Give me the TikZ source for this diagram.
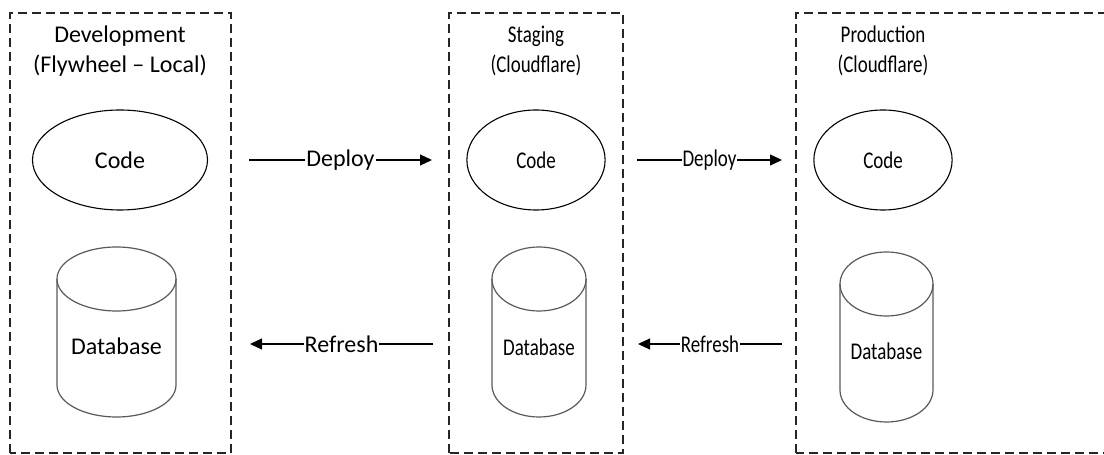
\documentclass[tikz,border=0pt]{standalone}
\usepackage{fontspec}
\setmainfont{Carlito}
\usetikzlibrary{shapes.geometric,arrows.meta}
\tikzset{
  envbox/.style={draw=black!85, line width=1.2pt, dash pattern=on 9pt off 5pt},
  title/.style={align=center, font=\fontsize{24}{30}\selectfont, inner sep=0pt},
  codeell/.style={ellipse, draw, line width=1.1pt, minimum height=100pt, minimum width=175pt, inner sep=0pt, font=\fontsize{24}{29}\selectfont},
  dbtext/.style={font=\fontsize{24}{29}\selectfont, inner sep=0pt},
  cyl/.style={draw=black!65, line width=1.2pt},
  arr/.style={line width=1.2pt, -{Triangle[length=12pt,width=11pt]}},
  lbl/.style={fill=white, inner sep=1pt, font=\fontsize{24}{29}\selectfont},
  squish/.style={xscale=0.79, transform shape}
}
\begin{document}
\begin{tikzpicture}[x=1pt,y=1pt]
\useasboundingbox (0,0) rectangle (1104,455);
\clip (0,0) rectangle (1104,455);
% environment boxes
\draw[envbox] (10,2) rectangle (231,442);
\draw[envbox] (449,2) rectangle (623,442);
\draw[envbox] (796,2) rectangle (1130,442);
% titles
\node[title] (tdev) at (120,404) {Development\\(Flywheel – Local)};
\node[title, squish] (tstg) at (536,404) {Staging\\(Cloudflare)};
\node[title, squish] (tprd) at (883,404) {Production\\(Cloudflare)};
% code ellipses
\node[codeell] (cdev) at (120,295) {Code};
\node[codeell, squish] (cstg) at (536,295) {Code};
\node[codeell, squish] (cprd) at (883,295) {Code};
% cylinders
\draw[cyl] (57,176) -- (57,70) arc (180:360:59.5 and 32) -- (176,176) arc (0:180:59.5 and 32) -- cycle;
\draw[cyl] (57,176) arc (180:360:59.5 and 32);
\draw[cyl] (492,176) -- (492,70) arc (180:360:47 and 32) -- (586,176) arc (0:180:47 and 32) -- cycle;
\draw[cyl] (492,176) arc (180:360:47 and 32);
\draw[cyl] (840,171) -- (840,65) arc (180:360:46.5 and 32) -- (933,171) arc (0:180:46.5 and 32) -- cycle;
\draw[cyl] (840,171) arc (180:360:46.5 and 32);
\node[dbtext] (ddev) at (116.5,109) {Database};
\node[dbtext, squish] (dstg) at (539,108) {Database};
\node[dbtext, squish] (dprd) at (886.5,104) {Database};
% connector ends
\coordinate (d1s) at (249,295);
\coordinate (d1e) at (432,295);
\coordinate (r1s) at (433,111);
\coordinate (r1e) at (250,111);
\coordinate (d2s) at (637,295);
\coordinate (d2e) at (782,295);
\coordinate (r2s) at (782,111);
\coordinate (r2e) at (638,111);
\draw[arr] (d1s) -- node[lbl] {Deploy} (d1e);
\draw[arr] (r1s) -- node[lbl] {Refresh} (r1e);
\draw[arr] (d2s) -- node[lbl, squish] {Deploy} (d2e);
\draw[arr] (r2s) -- node[lbl, squish] {Refresh} (r2e);
\end{tikzpicture}
\end{document}
